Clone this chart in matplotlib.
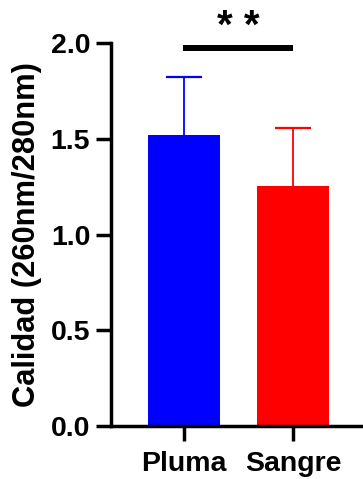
import matplotlib.pyplot as plt
import numpy as np

plt.rcParams['font.family'] = ['Liberation Sans', 'DejaVu Sans']
plt.rcParams['font.weight'] = 'bold'

grupos = ['Pluma', 'Sangre']
medias = [1.52, 1.255]
sd = [0.30, 0.30]
colores = ['#0000ff', '#ff0000']

fig = plt.figure(figsize=(3.63, 4.79), dpi=100)
ax = fig.add_axes([0.306, 0.1106, 0.694, 0.7996])

x = np.arange(len(grupos))
ax.bar(x, medias, width=0.66, color=colores, zorder=2)
for i in range(len(grupos)):
    eb = ax.errorbar(x[i], medias[i], yerr=[[0], [sd[i]]], color=colores[i],
                     capsize=13, elinewidth=1.3, capthick=1.6, zorder=1)
    eb[1][0].remove()  # quitar la tapa inferior

# linea de significancia
ax.plot([-0.01, 1.0], [1.975, 1.975], color='black', lw=4.3, clip_on=False,
        solid_capstyle='butt')
ax.text(0.5, 2.085, '* *', ha='center', va='center', fontsize=29,
        fontweight='bold', clip_on=False)

ax.set_xlim(-0.67, 1.64)
ax.set_ylim(0, 2.0)
ax.set_yticks([0, 0.5, 1.0, 1.5, 2.0])
ax.set_yticklabels(['0.0', '0.5', '1.0', '1.5', '2.0'])
ax.set_xticks(x)
ax.set_xticklabels(grupos)
ax.set_ylabel('Calidad (260nm/280nm)', fontsize=22.2, fontweight='bold', labelpad=6)

for s in ['top', 'right']:
    ax.spines[s].set_visible(False)
for s in ['left', 'bottom']:
    ax.spines[s].set_linewidth(2.5)
ax.tick_params(axis='both', width=2.5, length=11, labelsize=20.5)
ax.tick_params(axis='y', pad=4)
ax.tick_params(axis='x', pad=7)

fig.savefig('out.png', dpi=100)
